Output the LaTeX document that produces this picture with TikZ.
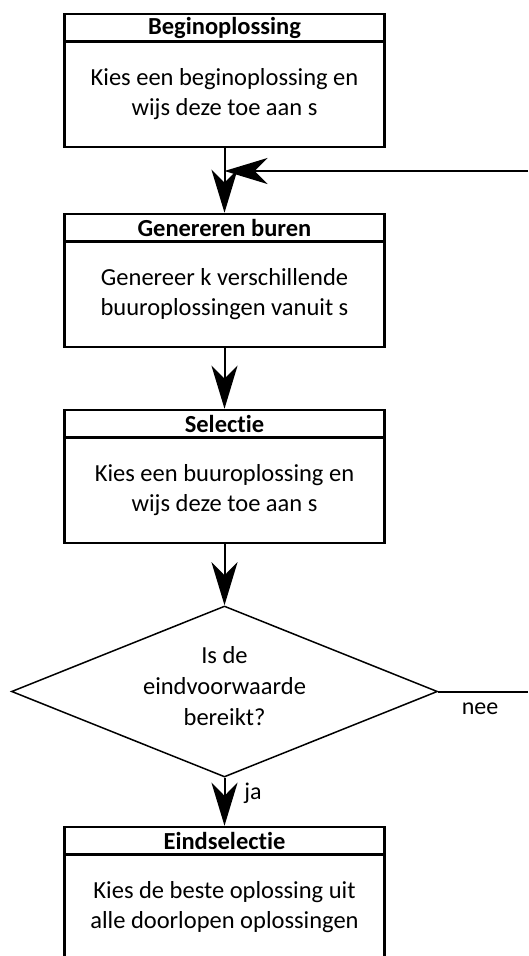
\documentclass[tikz,border=0pt]{standalone}
\usepackage{fontspec}
\setmainfont{Carlito}[Ligatures=NoCommon,RawFeature={-liga;-clig;-dlig}]
\usetikzlibrary{shapes.geometric,arrows.meta}
\newcommand{\nlt}{t\kern0pt }
\begin{document}
\begin{tikzpicture}[x=1pt,y=-1pt,
  hdr/.style={draw,line width=2.5pt,minimum width=320pt,minimum height=27.5pt,inner sep=0pt,font=\fontsize{24.5}{30}\selectfont\bfseries},
  bodybox/.style={draw,line width=2.5pt,minimum width=320pt,minimum height=105.5pt,inner sep=0pt,align=center,font=\fontsize{24.5}{29.5}\selectfont},
  decision/.style={diamond,draw,line width=1.5pt,minimum width=426pt,minimum height=171pt,inner sep=0pt,aspect=2.5},
  dtxt/.style={inner sep=0pt,align=center,font=\fontsize{24.5}{31}\selectfont},
  lbl/.style={inner sep=0pt,font=\fontsize{24}{29}\selectfont},
  conn/.style={line width=2pt},
  arr/.style={conn,-{Stealth[length=43pt,width=26pt,inset=13pt]}}
]
\useasboundingbox (0,0) rectangle (528,956);
\clip (0,0) rectangle (528,956);

\node[hdr] (h1) at (224.5,27.75) {Beginoplossing};
\node[bodybox] (b1) at (224.5,94.25) {Kies een beginoplossing en\\wijs deze toe aan s};

\node[hdr] (h2) at (224.5,227.75) {Genereren buren};
\node[bodybox] (b2) at (224.5,294.25) {Genereer k verschillende\\buuroplossingen vanuit s};

\node[hdr] (h3) at (224.5,423.75) {Selec\nlt ie};
\node[bodybox] (b3) at (224.5,490.25) {Kies een buuroplossing en\\wijs deze toe aan s};

\node[decision] (d) at (224.5,691.5) {};
\node[dtxt] (dt) at ([yshift=5pt]d.center) {Is de\\eindvoorwaarde\\bereikt?};

\node[hdr] (h4) at (224.5,840.75) {Eindselec\nlt ie};
\node[bodybox] (b4) at (224.5,907.25) {Kies de beste oplossing uit\\alle doorlopen oplossingen};

\node[lbl] (nee) at (480,709) {nee};
\node[lbl] (ja) at (253,793) {ja};

\coordinate (r1) at (528,691.5);
\coordinate (r2) at (528,171);

\draw[arr] (b1.south) -- (h2.north);
\draw[arr] (r2) -- (r2 -| b1.south);
\draw[arr] (b2.south) -- (h3.north);
\draw[arr] (b3.south) -- (d.north);
\draw[conn] (d.east) -- (r1);
\draw[arr] (d.south) -- (h4.north);
\end{tikzpicture}
\end{document}
